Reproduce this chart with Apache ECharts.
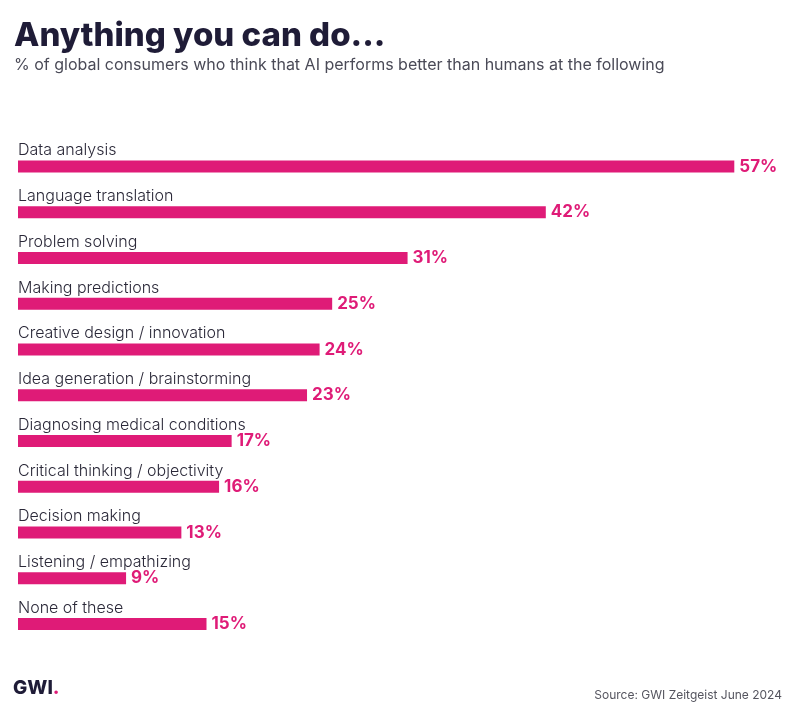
<!DOCTYPE html>
<html>
<head>
<meta charset="utf-8">
<script src="https://cdn.jsdelivr.net/npm/echarts@6/dist/echarts.min.js"></script>
<style>
html,body{margin:0;padding:0;background:#fff;}
#chart{width:796px;height:715px;}
</style>
</head>
<body>
<div id="chart"></div>
<script>
const categories = [
  "Data analysis",
  "Language translation",
  "Problem solving",
  "Making predictions",
  "Creative design / innovation",
  "Idea generation / brainstorming",
  "Diagnosing medical conditions",
  "Critical thinking / objectivity",
  "Decision making",
  "Listening / empathizing",
  "None of these"
];
const values = [57, 42, 31, 25, 24, 23, 17, 16, 13, 8.6, 15];

const titleText = "Anything you can do...";
const subtitleText = "% of global consumers who think that AI performs better than humans at the following";
const sourceText = "Source: GWI Zeitgeist June 2024";
const logoText = "GWI";

const PINK = "#df1b77";
const NAVY = "#1f1c37";
const FONT = "Inter";

const chart = echarts.init(document.getElementById('chart'), null, {renderer: 'canvas'});
chart.setOption({
  backgroundColor: '#fff',
  animation: false,
  textStyle: {fontFamily: FONT},
  title: [
    {text: titleText, left: 9, top: 15,
     textStyle: {fontFamily: FONT, fontSize: 33, fontWeight: 800, color: NAVY}},
    {text: subtitleText, left: 9, top: 52,
     textStyle: {fontFamily: FONT, fontSize: 16, fontWeight: 'normal', color: '#4a4a57'}},
    {text: sourceText, right: 9, top: 684,
     textStyle: {fontFamily: FONT, fontSize: 12, fontWeight: 'normal', color: '#55555f'}}
  ],
  graphic: [
    {type: 'text', left: 13, top: 679,
     style: {
       text: '{a|' + logoText + '}{b|.}',
       rich: {
         a: {fill: NAVY, font: '800 19px ' + FONT},
         b: {fill: PINK, font: '800 19px ' + FONT}
       }
     }}
  ],
  grid: {left: 18, right: 24, top: 143.6, bottom: 68, containLabel: false},
  xAxis: {
    type: 'value', min: 0, max: 60,
    show: false
  },
  yAxis: {
    type: 'category', data: categories, inverse: true,
    axisLine: {show: false}, axisTick: {show: false}, splitLine: {show: false},
    axisLabel: {
      inside: true, margin: 0, align: 'left', verticalAlign: 'bottom',
      padding: [0, 0, 8, 0],
      fontFamily: FONT, fontSize: 16, fontWeight: 300, color: '#2a2838'
    }
  },
  series: [{
    type: 'bar', data: values, barWidth: 12,
    itemStyle: {color: PINK},
    label: {
      show: true, position: 'right', distance: 5,
      formatter: p => Math.round(p.value) + '%',
      fontFamily: FONT, fontSize: 17, fontWeight: 'bold', color: PINK
    }
  }]
});
</script>
</body>
</html>
